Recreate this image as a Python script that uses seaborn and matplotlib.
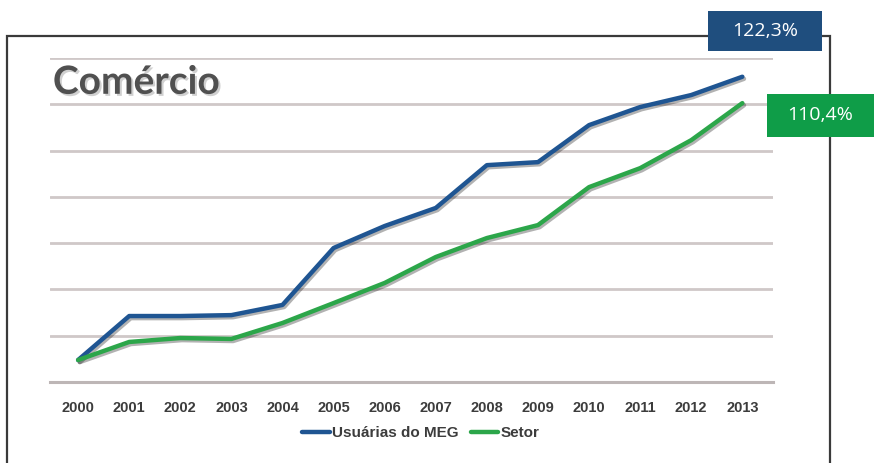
import matplotlib
matplotlib.use("Agg")
import matplotlib.pyplot as plt
import matplotlib.patheffects as pe
from matplotlib.patches import Rectangle
from matplotlib import font_manager
import pandas as pd
import seaborn as sns

# Data (index values, axis 0-140)
years = list(range(2000, 2014))
usuarias_meg = [9.5, 28.5, 28.5, 28.9, 33.3, 57.9, 67.4, 75.2, 93.7, 95.0, 111.0, 118.8, 124.0, 131.9]
setor = [9.5, 17.3, 19.0, 18.6, 25.5, 34.1, 42.8, 54.0, 62.2, 67.8, 84.2, 92.4, 104.5, 120.5]
series_names = ["Usuárias do MEG", "Setor"]
end_labels = ["122,3%", "110,4%"]
title = "Comércio"

blue = "#1f5592"
green = "#2ca64a"

df = pd.DataFrame({"ano": years * 2,
                   "valor": usuarias_meg + setor,
                   "serie": [series_names[0]] * len(years) + [series_names[1]] * len(years)})

sns.set_theme(style="white")
installed = {f.name for f in font_manager.fontManager.ttflist}
narrow = "Liberation Sans Narrow" if "Liberation Sans Narrow" in installed else "Liberation Sans"
plt.rcParams["font.family"] = [narrow, "DejaVu Sans"]

fig = plt.figure(figsize=(8.74, 4.63), dpi=100)
ax = fig.add_axes([50 / 874, 1 - 382 / 463, (773 - 50) / 874, (382 - 58) / 463])

shadow = [pe.SimpleLineShadow(offset=(1.2, -1.5), shadow_color="black", alpha=0.3), pe.Normal()]
sns.lineplot(data=df, x="ano", y="valor", hue="serie", palette=[blue, green],
             linewidth=3.2, ax=ax, legend=False)
for line in ax.lines:
    line.set_path_effects(shadow)
    line.set_solid_joinstyle("round")
    line.set_solid_capstyle("round")

ax.set_xlim(1999.45, 2013.6)
ax.set_ylim(0, 140)
ax.set_yticks(range(0, 141, 20))
ax.set_xticks(years)
ax.set_xticklabels([str(y) for y in years], fontsize=10.5, fontweight="bold", color="#3c3c3c")
ax.tick_params(axis="x", length=0, pad=14)
ax.tick_params(axis="y", left=False, labelleft=False)
ax.grid(axis="y", color="#cfc8c8", linewidth=2)
ax.set_xlabel("")
ax.set_ylabel("")
for s in ["top", "right", "left"]:
    ax.spines[s].set_visible(False)
ax.spines["bottom"].set_color("#bdb6b6")
ax.spines["bottom"].set_linewidth(2.2)

# title inside the plot
ax.text(0.004, 0.925, title, transform=ax.transAxes, fontsize=28, fontweight="bold",
        family=["Lato", "DejaVu Sans"], color="#505050", va="center", ha="left",
        path_effects=[pe.withSimplePatchShadow(offset=(1.5, -1.5), alpha=0.2)])

# legend
handles = [plt.Line2D([], [], color=blue, lw=3.2), plt.Line2D([], [], color=green, lw=3.2)]
leg = fig.legend(handles, series_names, loc="center", bbox_to_anchor=(421 / 874, 1 - 433 / 463),
                 ncol=2, frameon=False, handlelength=1.8, handletextpad=0.15, columnspacing=0.8,
                 prop={"family": narrow, "weight": "bold", "size": 11})
for t in leg.get_texts():
    t.set_color("#3c3c3c")

# outer frame
fig.add_artist(Rectangle((7 / 874, -0.02), (830 - 7) / 874, 1 - 36 / 463 + 0.02,
                         transform=fig.transFigure, fill=False, edgecolor="#3a3a3a", lw=1.6, zorder=1))

# end value boxes
boxes = [((708, 11, 822, 51), "#1f4e7e"), ((767, 94, 880, 137), "#0f9d48")]
for ((x0, y0, x1, y1), c), lab in zip(boxes, end_labels):
    fig.add_artist(Rectangle((x0 / 874, 1 - y1 / 463), (x1 - x0) / 874, (y1 - y0) / 463,
                             transform=fig.transFigure, facecolor=c, edgecolor="none", zorder=3))
    xc = (x0 + min(x1, 874)) / 2
    fig.text(xc / 874, 1 - (y0 + y1) / 2 / 463, lab, color="white", fontsize=14,
             family=["Open Sans", "DejaVu Sans"], ha="center", va="center", zorder=4)

fig.savefig("out.png", dpi=100)
